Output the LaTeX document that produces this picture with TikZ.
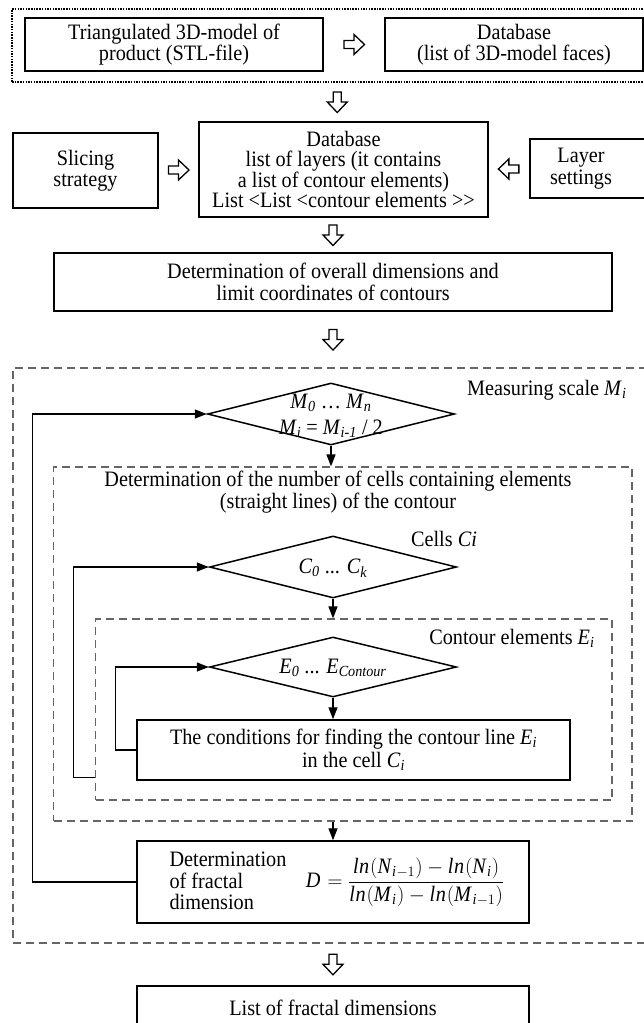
\documentclass[tikz,border=0pt]{standalone}
\usepackage{fontspec}
\setmainfont{Liberation Serif}[FakeStretch=0.92]
\usetikzlibrary{shapes.geometric, arrows.meta, calc, positioning}
\newcommand\isub[2]{\textit{#1}\textsubscript{\textit{#2}}}

\begin{document}
\begin{tikzpicture}[x=1pt, y=-1pt, >={Triangle[length=12pt, width=9pt]},
  font=\fontsize{22}{21.5}\selectfont,
  box/.style={draw, line width=1.5pt, align=center, inner sep=0pt},
  dashframe/.style={draw=black!60, line width=1.2pt, dash pattern=on 8pt off 5pt, inner sep=0pt},
  dotframe/.style={draw, line width=1.5pt, dash pattern=on 1.5pt off 1.2pt, inner sep=0pt},
  choice/.style={diamond, draw, line width=1.5pt, inner sep=0pt, minimum width=247pt, minimum height=62pt},
  flow/.style={->, line width=1.4pt},
  hdown/.pic={\draw[line width=1.3pt] (-4,-10) -- (4,-10) -- (4,0) -- (10,0) -- (0,10.5) -- (-10,0) -- (-4,0) -- cycle;},
  hright/.pic={\draw[line width=1.3pt] (-10,-4) -- (0,-4) -- (0,-10) -- (10.5,0) -- (0,10) -- (0,4) -- (-10,4) -- cycle;},
  hleft/.pic={\draw[line width=1.3pt] (10,-4) -- (0,-4) -- (0,-10) -- (-10.5,0) -- (0,10) -- (0,4) -- (10,4) -- cycle;}]
  \useasboundingbox (0,0) rectangle (644,1023);
  \clip (0,0) rectangle (644,1023);

  % 顶部
  \node[dotframe, minimum width=638pt, minimum height=73pt] (top) at (331,45.5) {};
  \node[box, minimum width=298pt, minimum height=53pt] (stl) at (174,44.5) {Triangulated 3D-model of\\product (STL-file)};
  \node[box, minimum width=258pt, minimum height=53pt] (faces) at (514,44.5) {Database\\(list of 3D-model faces)};
  \pic at ($(stl.east)!0.5!(faces.west)$) {hright};

  % 层
  \node[box, minimum width=289pt, minimum height=95pt, font=\fontsize{22}{20.5}\selectfont] (layers) at (343.5,169.5)
    {Database\\list of layers (it contains\\a list of contour elements)\\List <List <contour elements >\kern0pt>};
  \node[box, minimum width=145pt, minimum height=75pt] (slicing) at (85.5,170.5) {Slicing\\strategy};
  \node[box, minimum width=131pt, minimum height=59pt, anchor=west] (layerset) at (529,168.5) {};
  \node[align=center] (layertext) at (581,168.5) {Layer\\settings};
  \pic at ($(top.south)!0.5!(layers.north)$) {hdown};
  \pic at ($(slicing.east)!0.5!(layers.west)$) {hright};
  \pic at ($(layers.east)!0.5!(layerset.west)$) {hleft};

  % 外形尺寸
  \node[box, minimum width=558pt, minimum height=58pt] (overall) at (333,282)
    {Determination of overall dimensions and\\limit coordinates of contours};
  \pic at ($(layers.south -| overall.north)!0.5!(overall.north)$) {hdown};

  % 虚线框
  \node[dashframe, minimum width=647pt, minimum height=575pt] (outer) at (336.5,655.5) {};
  \node[dashframe, minimum width=578.5pt, minimum height=354pt] (cells) at (342.75,644) {};
  \node[dashframe, minimum width=516.5pt, minimum height=181pt] (elems) at (353.75,709.5) {};
  \pic at ($(overall.south)!0.5!(overall.south |- outer.north)$) {hdown};

  % 尺度 M
  \node[anchor=east] (mlabel) at (630,390) {Measuring scale \isub{M}{i}};
  \node[choice] (mdiam) at (331,414) {};
  \node[align=center, font=\fontsize{22}{26}\selectfont] (mtext) at (331,416)
    {\isub{M}{0} … \isub{M}{n}\\\isub{M}{i} = \isub{M}{i-1} / 2};

  % 单元 C
  \node[align=center, font=\fontsize{22}{22.5}\selectfont] (celltext) at (338,492)
    {Determination of the number of cells containing elements\\(straight lines) of the contour};
  \node (clabel) at (444,539) {Cells \textit{Ci}};
  \node[choice] (cdiam) at (333,567) {};
  \node (ctext) at (333,568) {\isub{C}{0} ... \isub{C}{k}};

  % 元素 E
  \node[anchor=east] (elabel) at (598,638) {Contour elements \isub{E}{i}};
  \node[choice, minimum height=60pt] (ediam) at (333,667) {};
  \node (etext) at (333,668) {\isub{E}{0} ... \isub{E}{Contour}};
  \node[box, minimum width=433pt, minimum height=60pt, font=\fontsize{22}{23}\selectfont] (cond) at (353.5,750)
    {The conditions for finding the contour line \isub{E}{i}\\in the cell \isub{C}{i}};

  % 分形维数
  \node[box, minimum width=392pt, minimum height=82pt] (dbox) at (333,882) {};
  \node[align=left, anchor=west, font=\fontsize{22}{21.5}\selectfont] (dtext) at (166,881)
    {Determination\\of fractal\\dimension};
  \node (dformula) at (405,882)
    {$\displaystyle \mathit{D}=\frac{\mathit{ln}\bigl(\mathit{N}_{\mathit{i}-1}\bigr)-\mathit{ln}\bigl(\mathit{N}_{\mathit{i}}\bigr)}{\mathit{ln}\bigl(\mathit{M}_{\mathit{i}}\bigr)-\mathit{ln}\bigl(\mathit{M}_{\mathit{i}-1}\bigr)}$};

  \node[box, minimum width=392pt, minimum height=44pt, anchor=north] (list) at (333,985) {List of fractal dimensions};
  \pic at ($(outer.south -| list.north)!0.5!(list.north)$) {hdown};

  % 箭头
  \draw[flow] (mdiam.south) -- (mdiam.south |- cells.north);
  \draw[flow] (cdiam.south) -- (cdiam.south |- elems.north);
  \draw[flow] (ediam.south) -- (ediam.south |- cond.north);
  \draw[flow] (cells.south -| dbox.north) -- (dbox.north);

  % 循环
  \draw[flow] (dbox.west) -- ++(-104,0) |- (mdiam.west);
  \draw[flow] ($(elems.south west)+(0,-23)$) -- ++(-21.5,0) |- (cdiam.west);
  \draw[flow] (cond.west) -- ++(-21,0) |- (ediam.west);
\end{tikzpicture}
\end{document}
